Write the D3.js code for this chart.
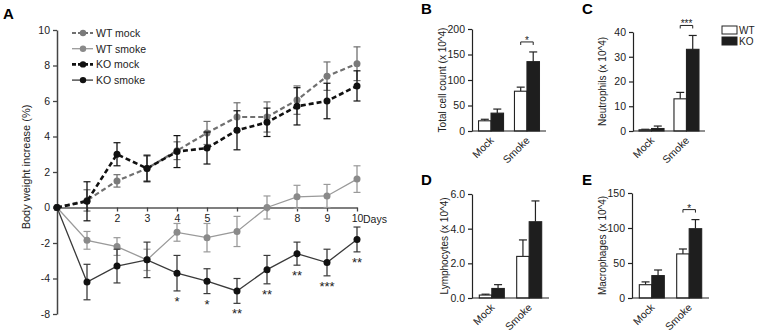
<!DOCTYPE html>
<html>
<head>
<meta charset="utf-8">
<script src="https://cdn.jsdelivr.net/npm/d3@7"></script>
<style>
body { margin: 0; background: #fff; }
text { font-family: Arial, "Liberation Sans", sans-serif; }
</style>
</head>
<body>
<div id="chart"></div>
<script>
// panel A: body weight increase (%) per day
var days = [0, 1, 2, 3, 4, 5, 6, 7, 8, 9, 10];
var dayLabels = ["", "", "2", "3", "4", "5", "", "", "8", "9", "10"];
var wtMock = [0, 0.4, 1.5, 2.2, 3.2, 4.2, 5.1, 5.1, 6.05, 7.4, 8.1];
var wtMockErr = [0, 0.6, 0.35, 0.7, 0.5, 0.65, 0.8, 0.85, 0.8, 0.8, 0.95];
var wtSmoke = [0, -1.85, -2.2, -2.95, -1.4, -1.7, -1.35, 0, 0.6, 0.65, 1.6];
var wtSmokeErr = [0, 0.5, 0.5, 0.6, 0.5, 0.8, 0.85, 0.65, 0.65, 0.65, 0.75];
var koMock = [0, 0.35, 3.0, 2.2, 3.15, 3.35, 4.35, 4.8, 5.7, 6.0, 6.85];
var koMockErr = [0, 1.1, 0.65, 0.75, 0.9, 0.9, 1.1, 0.8, 1.05, 1.0, 0.85];
var koSmoke = [0, -4.2, -3.3, -2.95, -3.7, -4.15, -4.7, -3.5, -2.6, -3.1, -1.8];
var koSmokeErr = [0, 1.0, 0.95, 1.0, 1.0, 0.7, 0.7, 0.8, 0.65, 0.75, 0.7];
var koSmokeSig = ["", "", "", "", "*", "*", "**", "**", "**", "***", "**"];
var yTicksA = [10, 8, 6, 4, 2, 0, -2, -4, -6];
var yTickLabelsA = ["10", "8", "6", "4", "2", "0", "-2", "-4", "-8"];

// panels B-E: BAL cell counts (x 10^4)
var groups = ["Mock", "Smoke"];
var totalWT = [20, 78], totalWTErr = [3, 8];
var totalKO = [35, 136], totalKOErr = [8, 19];
var neutroWT = [0.5, 13], neutroWTErr = [0.2, 2.6];
var neutroKO = [1.0, 33], neutroKOErr = [1.0, 5.6];
var lymphoWT = [0.17, 2.4], lymphoWTErr = [0.05, 0.95];
var lymphoKO = [0.55, 4.4], lymphoKOErr = [0.22, 1.2];
var macroWT = [19, 63], macroWTErr = [4, 7];
var macroKO = [32, 99], macroKOErr = [8, 13];

var svg = d3.select("#chart").append("svg")
  .attr("width", 759).attr("height", 335);

// ---------- panel A ----------
var xA = d3.scaleLinear().domain([0, 10]).range([57, 357]);
var yA = d3.scaleLinear().domain([-6, 10]).range([314, 30]);
var gA = svg.append("g");

gA.append("text").attr("x", 3).attr("y", 19)
  .attr("font-size", 15).attr("font-weight", "bold").text("A");

var yAxisA = gA.append("g").attr("transform", "translate(57,0)")
  .call(d3.axisLeft(yA).tickValues(yTicksA).tickSize(4).tickSizeOuter(0)
    .tickFormat(function(d) { return yTickLabelsA[yTicksA.indexOf(d)]; }));
yAxisA.select(".domain").attr("stroke", "#444").attr("stroke-width", 1.5);
yAxisA.selectAll(".tick line").attr("stroke", "#444").attr("stroke-width", 1.3);
yAxisA.selectAll(".tick text").attr("font-size", 10.5).attr("fill", "#222").attr("font-family", null);

var xAxisA = gA.append("g").attr("transform", "translate(0," + yA(0) + ")")
  .call(d3.axisBottom(xA).tickValues(days.slice(1)).tickSize(4).tickSizeOuter(0)
    .tickFormat(function(d) { return dayLabels[d]; }));
xAxisA.select(".domain").attr("stroke", "#555").attr("stroke-width", 1.5);
xAxisA.selectAll(".tick line").attr("stroke", "#444").attr("stroke-width", 1.3);
xAxisA.selectAll(".tick text").attr("font-size", 10.5).attr("fill", "#222").attr("font-family", null);
gA.append("text").attr("x", xA(10) + 6).attr("y", yA(0) + 15)
  .attr("font-size", 10.5).attr("fill", "#222").text("Days");

gA.append("text")
  .attr("transform", "translate(30," + 167 + ") rotate(-90)")
  .attr("text-anchor", "middle").attr("font-size", 11).attr("fill", "#222")
  .text("Body weight increase (%)");

var seriesA = [
  { name: "WT smoke", vals: wtSmoke, err: wtSmokeErr, line: "#9a9a9a", dot: "#8a8a8a", w: 1.3, dash: null },
  { name: "KO smoke", vals: koSmoke, err: koSmokeErr, line: "#3a3a3a", dot: "#111", w: 1.3, dash: null },
  { name: "WT mock", vals: wtMock, err: wtMockErr, line: "#707070", dot: "#7a7a7a", w: 2.2, dash: "5,3" },
  { name: "KO mock", vals: koMock, err: koMockErr, line: "#111", dot: "#111", w: 2.6, dash: "5,3" }
];

var lineA = d3.line()
  .x(function(d, i) { return xA(days[i]); })
  .y(function(d) { return yA(d); });

seriesA.forEach(function(s) {
  var g = gA.append("g");
  // error bars
  s.vals.forEach(function(v, i) {
    if (s.err[i] === 0) return;
    var cx = xA(days[i]), top = yA(v + s.err[i]), bot = yA(v - s.err[i]);
    g.append("line").attr("x1", cx).attr("x2", cx).attr("y1", top).attr("y2", bot)
      .attr("stroke", s.line).attr("stroke-width", 1.3);
    [top, bot].forEach(function(yy) {
      g.append("line").attr("x1", cx - 3.5).attr("x2", cx + 3.5).attr("y1", yy).attr("y2", yy)
        .attr("stroke", s.line).attr("stroke-width", 1.2);
    });
  });
  g.append("path").datum(s.vals).attr("d", lineA)
    .attr("fill", "none").attr("stroke", s.line).attr("stroke-width", s.w)
    .attr("stroke-dasharray", s.dash);
  g.selectAll("circle").data(s.vals).enter().append("circle")
    .attr("cx", function(d, i) { return xA(days[i]); })
    .attr("cy", function(d) { return yA(d); })
    .attr("r", 3.5).attr("fill", s.dot);
});

// significance stars below KO smoke
koSmoke.forEach(function(v, i) {
  if (!koSmokeSig[i]) return;
  gA.append("text").attr("x", xA(days[i])).attr("y", yA(v - koSmokeErr[i]) + 15)
    .attr("text-anchor", "middle").attr("font-size", 13).attr("fill", "#222")
    .text(koSmokeSig[i]);
});

// legend A
var legendA = [seriesA[2], seriesA[0], seriesA[3], seriesA[1]];
legendA.forEach(function(s, i) {
  var yy = 33 + i * 15.7;
  gA.append("line").attr("x1", 72).attr("x2", 93).attr("y1", yy).attr("y2", yy)
    .attr("stroke", s.line).attr("stroke-width", s.w).attr("stroke-dasharray", s.dash ? "4,2" : null);
  gA.append("circle").attr("cx", 83).attr("cy", yy).attr("r", 3.2).attr("fill", s.dot);
  gA.append("text").attr("x", 96).attr("y", yy + 4).attr("font-size", 10.5).attr("fill", "#222").text(s.name);
});

// ---------- panels B-E ----------
var panels = [
  { letter: "B", lx: 421, ly: 14, label: "Total cell count (x 10^4)", labx: 446,
    wt: totalWT, wtErr: totalWTErr, ko: totalKO, koErr: totalKOErr,
    max: 200, ticks: [0, 50, 100, 150, 200], x0: 472, x1: 546, y0: 131, y1: 29, sig: "*" },
  { letter: "C", lx: 582, ly: 14, label: "Neutrophils (x 10^4)", labx: 606,
    wt: neutroWT, wtErr: neutroWTErr, ko: neutroKO, koErr: neutroKOErr,
    max: 40, ticks: [0, 10, 20, 30, 40], x0: 633, x1: 705, y0: 131, y1: 32, sig: "***" },
  { letter: "D", lx: 421, ly: 185, label: "Lymphocytes (x 10^4)", labx: 448,
    wt: lymphoWT, wtErr: lymphoWTErr, ko: lymphoKO, koErr: lymphoKOErr,
    max: 6, ticks: [0, 2, 4, 6], x0: 472, x1: 549, y0: 298, y1: 194, sig: "" },
  { letter: "E", lx: 582, ly: 185, label: "Macrophages (x 10^4)", labx: 606,
    wt: macroWT, wtErr: macroWTErr, ko: macroKO, koErr: macroKOErr,
    max: 150, ticks: [0, 50, 100, 150], x0: 632, x1: 709, y0: 298, y1: 193, sig: "*" }
];

panels.forEach(function(p) {
  var g = svg.append("g");
  var y = d3.scaleLinear().domain([0, p.max]).range([p.y0, p.y1]);
  var x = d3.scalePoint().domain(groups).range([p.x0, p.x1]).padding(0.53);
  var sub = d3.scaleBand().domain(["WT", "KO"]).range([-12.5, 12.5]);

  g.append("text").attr("x", p.lx).attr("y", p.ly)
    .attr("font-size", 15).attr("font-weight", "bold").text(p.letter);

  var ya = g.append("g").attr("transform", "translate(" + p.x0 + ",0)")
    .call(d3.axisLeft(y).tickValues(p.ticks).tickSize(4).tickSizeOuter(0));
  ya.select(".domain").attr("stroke", "#222").attr("stroke-width", 1.2);
  ya.selectAll(".tick line").attr("stroke", "#222").attr("stroke-width", 1.2);
  ya.selectAll(".tick text").attr("font-size", 10.5).attr("fill", "#222").attr("font-family", null);

  g.append("text")
    .attr("transform", "translate(" + p.labx + "," + ((p.y0 + p.y1) / 2) + ") rotate(-90)")
    .attr("text-anchor", "middle").attr("font-size", 10).attr("fill", "#222").text(p.label);

  groups.forEach(function(grp, i) {
    [["WT", p.wt, p.wtErr, "#fff"], ["KO", p.ko, p.koErr, "#1e1e1e"]].forEach(function(s) {
      var bx = x(grp) + sub(s[0]), bw = sub.bandwidth(), v = s[1][i], e = s[2][i];
      var cx = bx + bw / 2;
      g.append("line").attr("x1", cx).attr("x2", cx).attr("y1", y(v)).attr("y2", y(v + e))
        .attr("stroke", "#222").attr("stroke-width", 1.2);
      g.append("line").attr("x1", cx - 4).attr("x2", cx + 4).attr("y1", y(v + e)).attr("y2", y(v + e))
        .attr("stroke", "#222").attr("stroke-width", 1.2);
      g.append("rect").attr("x", bx).attr("y", y(v)).attr("width", bw).attr("height", p.y0 - y(v))
        .attr("fill", s[3]).attr("stroke", "#222").attr("stroke-width", 1.1);
    });
  });

  var xa = g.append("g").attr("transform", "translate(0," + p.y0 + ")")
    .call(d3.axisBottom(x).tickSize(0).tickSizeOuter(0));
  xa.select(".domain").attr("stroke", "#222").attr("stroke-width", 1.2)
    .attr("d", "M" + p.x0 + ",0H" + p.x1);
  xa.selectAll(".tick text").attr("font-size", 10.5).attr("fill", "#222").attr("font-family", null)
    .attr("y", 0).attr("dy", 0).attr("text-anchor", "end")
    .attr("transform", "translate(3,10) rotate(-45)");

  if (p.sig) {
    var top = y(p.ko[1] + p.koErr[1]) - 10;
    var xl = x("Smoke") + sub("WT") + sub.bandwidth() / 2, xr = x("Smoke") + sub("KO") + sub.bandwidth() / 2;
    g.append("path").attr("d", "M" + xl + "," + (top + 3) + "V" + top + "H" + xr + "V" + (top + 3))
      .attr("fill", "none").attr("stroke", "#222").attr("stroke-width", 1);
    g.append("text").attr("x", (xl + xr) / 2).attr("y", top + 2)
      .attr("text-anchor", "middle").attr("font-size", 10).attr("fill", "#222").text(p.sig);
  }
});

// legend for bar panels
[["WT", "#fff"], ["KO", "#1e1e1e"]].forEach(function(d, i) {
  var yy = 26 + i * 11;
  svg.append("rect").attr("x", 722).attr("y", yy).attr("width", 15).attr("height", 8)
    .attr("fill", d[1]).attr("stroke", "#222").attr("stroke-width", 1);
  svg.append("text").attr("x", 739).attr("y", yy + 8).attr("font-size", 10).attr("fill", "#222").text(d[0]);
});
</script>
</body>
</html>
